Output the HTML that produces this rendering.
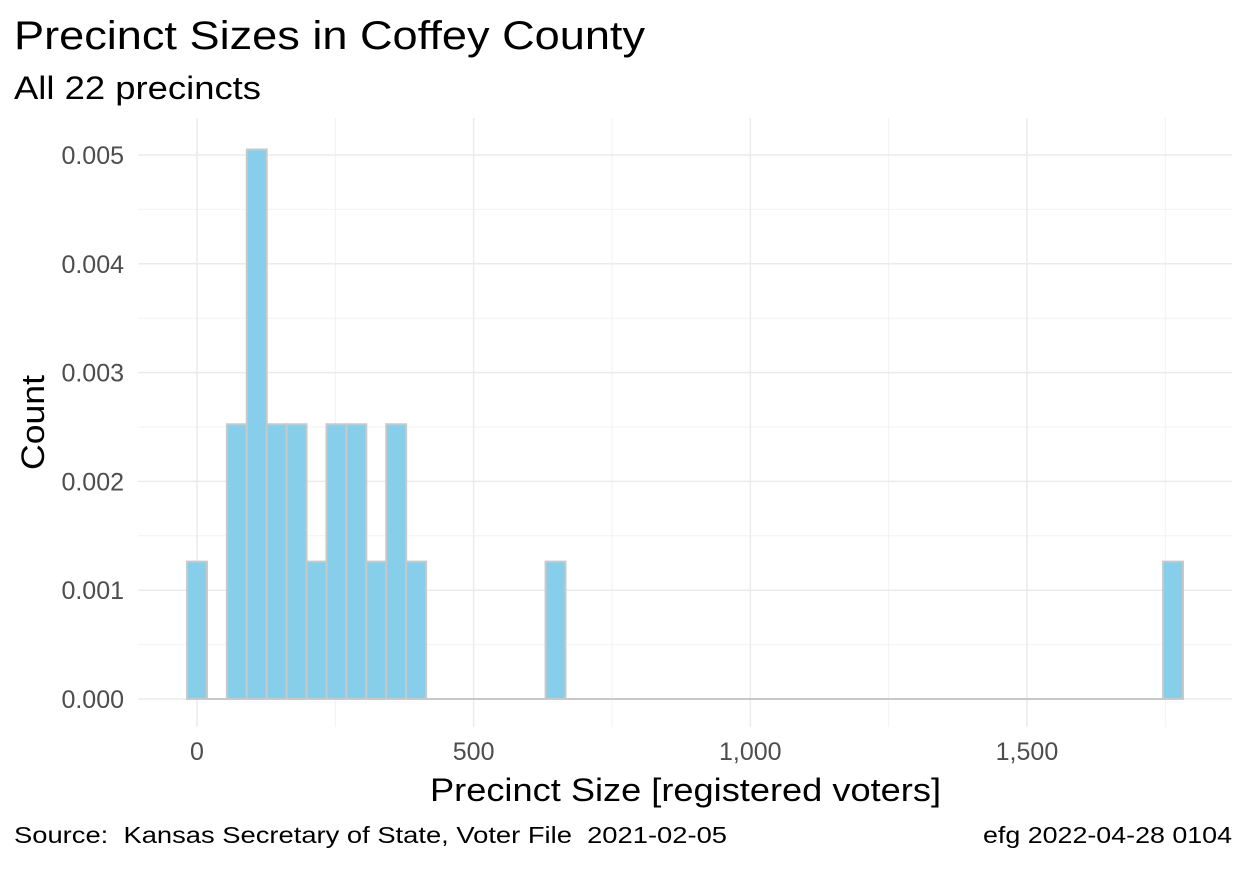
<!DOCTYPE html>
<html><head><meta charset="utf-8"><style>
body{margin:0;background:#fff;}
svg text{font-family:"Liberation Sans",sans-serif;white-space:pre;}
</style></head><body>
<svg id="c" width="1248" height="864" xmlns="http://www.w3.org/2000/svg">
<text x="14" y="49" font-size="40" textLength="631" lengthAdjust="spacingAndGlyphs" fill="#000">Precinct Sizes in Coffey County</text>
<text x="14" y="99" font-size="32" textLength="247" lengthAdjust="spacingAndGlyphs" fill="#000">All 22 precincts</text>
<g id="grid"></g>
<g id="bars"></g>
<g id="axes"></g>
<text x="430" y="801" font-size="32" textLength="511" lengthAdjust="spacingAndGlyphs">Precinct Size [registered voters]</text>
<text transform="translate(44,470) rotate(-90)" font-size="32" textLength="95" lengthAdjust="spacingAndGlyphs">Count</text>
<text x="14" y="843" font-size="23" textLength="713" lengthAdjust="spacingAndGlyphs">Source:  Kansas Secretary of State, Voter File  2021-02-05</text>
<text x="983" y="843" font-size="23" textLength="249" lengthAdjust="spacingAndGlyphs">efg 2022-04-28 0104</text>
</svg>
<script>
const binWidth = 36;
const binIndex = [0,2,3,4,5,6,7,8,9,10,11,18,49];
const binCounts = [1,2,4,2,2,1,2,2,1,2,1,1,1];
const xTicks = [0,500,1000,1500];
const xTickLabels = ["0","500","1,000","1,500"];
const yTicks = [0,0.001,0.002,0.003,0.004,0.005];
const yTickLabels = ["0.000","0.001","0.002","0.003","0.004","0.005"];
const NS="http://www.w3.org/2000/svg";
const total = binCounts.reduce((a,b)=>a+b,0);
const X = v => 197 + v*0.5533;
const Y = v => 699 - v*108.8*1000;
const L=138,R=1232,T=118,B=727;
function mk(tag,attrs,parent){const e=document.createElementNS(NS,tag);for(const k in attrs)e.setAttribute(k,attrs[k]);document.getElementById(parent).appendChild(e);return e;}
for(let i=0;i<xTicks.length;i++){
  const g=mk('line',{x1:X(xTicks[i]+250),x2:X(xTicks[i]+250),y1:T,y2:B,stroke:'#f2f2f2','stroke-width':1},'grid');
  
  
}
for(let i=0;i<yTicks.length;i++){
  const yy=Y(yTicks[i]+0.0005);
  if(yy<T) continue;
  const g=mk('line',{x1:L,x2:R,y1:yy,y2:yy,stroke:'#f2f2f2','stroke-width':1},'grid');
  
  
}
for(let i=0;i<xTicks.length;i++){
  const g=mk('line',{x1:X(xTicks[i]),x2:X(xTicks[i]),y1:T,y2:B,stroke:'#ebebeb','stroke-width':1.5},'grid');
  
  
  const t=mk('text',{x:X(xTicks[i]),y:760,'font-size':25,fill:'#4d4d4d','text-anchor':'middle'},'axes');
  t.textContent=xTickLabels[i];
  
  
}
for(let i=0;i<yTicks.length;i++){
  const g=mk('line',{x1:L,x2:R,y1:Y(yTicks[i]),y2:Y(yTicks[i]),stroke:'#ebebeb','stroke-width':1.5},'grid');
  
  
  const t=mk('text',{x:124,y:Y(yTicks[i])+9,'font-size':25,fill:'#4d4d4d','text-anchor':'end'},'axes');
  t.textContent=yTickLabels[i];
  
  
}
for(let i=0;i<binIndex.length;i++){
  const d=binCounts[i]/(total*binWidth);
  const x0=X((binIndex[i]-0.5)*binWidth), x1=X((binIndex[i]+0.5)*binWidth);
  const r=mk('rect',{x:x0,y:Y(d),width:x1-x0,height:Y(0)-Y(d),fill:'#87ceeb',stroke:'#c8c8c8','stroke-width':2},'bars');
  
  
}
const base=mk('line',{x1:X(-18),x2:X(binIndex[binIndex.length-1]*binWidth+18),y1:Y(0),y2:Y(0),stroke:'#c8c8c8','stroke-width':2},'bars');


</script>
</body></html>
